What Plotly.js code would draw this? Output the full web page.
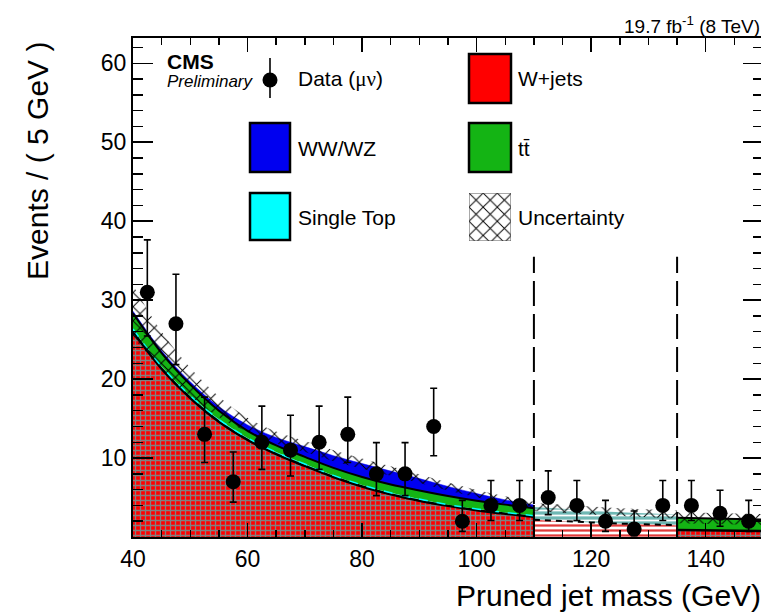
<!DOCTYPE html>
<html>
<head>
<meta charset="utf-8">
<script src="https://cdn.plot.ly/plotly-3.0.1.min.js"></script>
<style>
html,body{margin:0;padding:0;overflow:hidden;background:#fff;}
#chart{width:764px;height:614px;}
</style>
</head>
<body>
<div id="chart"></div>
<script>
// ---------------- data ----------------
// data points (bin centres, 5 GeV bins)
const binCenters = [42.5,47.5,52.5,57.5,62.5,67.5,72.5,77.5,82.5,87.5,92.5,97.5,102.5,107.5,112.5,117.5,122.5,127.5,132.5,137.5,142.5,147.5];
const dataCounts = [31,27,13,7,12,11,12,13,8,8,14,2,4,4,5,4,2,1,4,4,3,2];
const dataErrUp   = [6.63,6.27,4.71,3.77,4.57,4.42,4.57,4.71,3.95,3.95,4.84,2.64,3.16,3.16,3.38,3.16,2.64,2.30,3.16,3.16,2.92,2.64];
const dataErrDown = [5.55,5.17,3.57,2.58,3.43,3.27,3.43,3.57,2.76,2.76,3.71,1.29,1.91,1.91,2.16,1.91,1.29,0.83,1.91,1.91,1.63,1.29];

// lower sideband 40-110 GeV
const xLow   = [40,45,50,55,60,65,70,75,80,85,90,95,100,105,110];
const wjLow  = [26.0,21.3,17.6,14.6,12.3,10.5,9.0,7.6,6.4,5.4,4.6,3.95,3.4,2.95,2.55];
const stLow  = [0.35,0.3,0.3,0.3,0.25,0.25,0.25,0.2,0.2,0.2,0.2,0.15,0.15,0.15,0.15];
const ttLow  = [2.0,1.7,1.4,1.1,0.9,0.85,0.9,0.95,1.0,1.05,1.1,1.1,1.05,1.0,0.95];
const vvLow  = [0.25,0.3,0.35,0.5,0.75,1.0,1.3,1.55,1.7,1.7,1.5,1.2,0.9,0.6,0.4];
const uncLow = [3.3,2.4,1.8,1.3,0.9,0.75,0.7,0.7,0.65,0.6,0.55,0.5,0.45,0.45,0.4];

// signal region 110-135 GeV (blinded)
const xSig   = [110,115,120,125,130,135];
const wjSig  = [2.2,2.0,1.85,1.7,1.6,1.5];
const othSig = [1.6,1.55,1.5,1.45,1.4,1.35];
const uncSig = [0.5,0.5,0.5,0.5,0.5,0.5];

// upper sideband 135-150 GeV
const xHigh   = [135,140,145,150];
const wjHigh  = [0.9,0.85,0.8,0.75];
const ttHigh  = [1.55,1.5,1.5,1.45];
const uncHigh = [0.7,0.7,0.7,0.7];

const windowEdges = [110,135];
const windowLineTop = 35.5;

const xTickVals = [40,60,80,100,120,140];
const yTickVals = [10,20,30,40,50,60];

// ---------------- helpers ----------------
const add = (a,b) => a.map((v,i)=>v+b[i]);
const sub = (a,b) => a.map((v,i)=>v-b[i]);

const RED='#ff0000', GREEN='#14b414', BLUE='#0000f0', CYAN='#00ffff';
const redPattern = {shape:'+', bgcolor:RED, fgcolor:'#808080', size:5, solidity:0.45, fillmode:'replace'};
const hatch = {shape:'x', bgcolor:'rgba(0,0,0,0)', fgcolor:'#000', size:10, solidity:0.18, fillmode:'replace'};

const traces = [];
// --- low sideband stack
const l1 = wjLow, l2 = add(l1, stLow), l3 = add(l2, ttLow), l4 = add(l3, vvLow);
traces.push({x:xLow, y:l1, mode:'lines', line:{color:'#000', width:2.5, shape:'spline'}, fill:'tozeroy', fillcolor:RED, fillpattern:redPattern});
traces.push({x:xLow, y:l2, mode:'lines', line:{color:CYAN, width:1.5, dash:'dash', shape:'spline'}, fill:'tonexty', fillcolor:CYAN});
traces.push({x:xLow, y:l3, mode:'lines', line:{color:'#000', width:2, shape:'spline'}, fill:'tonexty', fillcolor:GREEN});
traces.push({x:xLow, y:l4, mode:'lines', line:{color:BLUE, width:0.5, shape:'spline'}, fill:'tonexty', fillcolor:BLUE});
traces.push({x:xLow, y:sub(l4, uncLow), mode:'lines', line:{width:0, shape:'spline'}});
traces.push({x:xLow, y:add(l4, uncLow), mode:'lines', line:{width:0, shape:'spline'}, fill:'tonexty', fillcolor:'rgba(0,0,0,0)', fillpattern:hatch});
// --- signal region (blinded)
const s1 = wjSig, s2 = add(s1, othSig);
traces.push({x:xSig, y:s1, mode:'lines', line:{color:'#000', width:2, dash:'6px,5px'}, fill:'tozeroy', fillcolor:'#fff',
  fillpattern:{shape:'-', bgcolor:'#ffffff', fgcolor:'#e23a3a', size:5, solidity:0.45, fillmode:'replace'}});
traces.push({x:xSig, y:s2, mode:'lines', line:{width:0}, fill:'tonexty', fillcolor:'#8cc8c8',
  fillpattern:{shape:'-', bgcolor:'#6fb8b4', fgcolor:'#ffffff', size:5, solidity:0.35, fillmode:'replace'}});
traces.push({x:xSig, y:sub(s2, uncSig), mode:'lines', line:{width:0}});
traces.push({x:xSig, y:add(s2, uncSig), mode:'lines', line:{width:0}, fill:'tonexty', fillcolor:'rgba(0,0,0,0)', fillpattern:hatch});
// --- high sideband
const h1 = wjHigh, h2 = add(h1, ttHigh);
traces.push({x:xHigh, y:h1, mode:'lines', line:{color:'#000', width:2.5}, fill:'tozeroy', fillcolor:RED, fillpattern:redPattern});
traces.push({x:xHigh, y:h2, mode:'lines', line:{color:'#000', width:2}, fill:'tonexty', fillcolor:GREEN});
traces.push({x:xHigh, y:sub(h2, uncHigh), mode:'lines', line:{width:0}});
traces.push({x:xHigh, y:add(h2, uncHigh), mode:'lines', line:{width:0}, fill:'tonexty', fillcolor:'rgba(0,0,0,0)', fillpattern:hatch});
// --- data
traces.push({x:binCenters, y:dataCounts, mode:'markers', marker:{color:'#000', size:15},
  error_y:{type:'data', symmetric:false, array:dataErrUp, arrayminus:dataErrDown, color:'#000', thickness:1.6, width:3.5}});

// ---------------- layout helpers (pixel -> paper) ----------------
const L=133, T=38, W=630, H=499;
const px = v => (v-L)/W;
const py = v => (T+H-v)/H;

// legend swatch for uncertainty (hatched) on its own small axes
traces.push({x:[0,1,1,0,0], y:[0,0,1,1,0], xaxis:'x2', yaxis:'y2', mode:'lines', line:{color:'#555', width:1},
  fill:'toself', fillcolor:'rgba(0,0,0,0)', fillpattern:{shape:'x', bgcolor:'rgba(0,0,0,0)', fgcolor:'#000', size:10, solidity:0.18}});

const FONT = 'Liberation Sans, Arial, Helvetica, sans-serif';
const shapes = [];
function box(x0,y0,x1,y1,color){
  shapes.push({type:'rect', xref:'paper', yref:'paper', x0:px(x0), x1:px(x1), y0:py(y1), y1:py(y0),
    fillcolor:color, line:{color:'#000', width:2.5}});
}
box(250,123,290,172,BLUE);
box(250,193,290,240,CYAN);
box(469,54,511,103,RED);
box(469,123,511,172,GREEN);
// data legend marker
shapes.push({type:'line', xref:'paper', yref:'paper', x0:px(270), x1:px(270), y0:py(98), y1:py(58), line:{color:'#000', width:1.6}});
shapes.push({type:'circle', xref:'paper', yref:'paper', x0:px(262.5), x1:px(277.5), y0:py(87.5), y1:py(72.5), fillcolor:'#000', line:{color:'#000', width:0}});
// window lines
const lowTotalEnd = l4[l4.length-1];
const highTotalStart = h2[0];
windowEdges.forEach((xe,i)=>{
  shapes.push({type:'line', xref:'x', yref:'y', x0:xe, x1:xe, y0:0, y1:windowLineTop, line:{color:'#000', width:2, dash:'25px,8px'}});
  shapes.push({type:'line', xref:'x', yref:'y', x0:xe, x1:xe, y0:0, y1:(i===0?lowTotalEnd:highTotalStart), line:{color:'#000', width:2}});
});

const annotations = [];
function txt(text, x, y, size, opts){
  annotations.push(Object.assign({text:text, xref:'paper', yref:'paper', x:px(x), y:py(y), xanchor:'left', yanchor:'middle',
    showarrow:false, font:{family:FONT, size:size, color:'#000'}}, opts||{}));
}
txt('<b>CMS</b>', 165, 61, 21);
txt('<i>Preliminary</i>', 165, 82, 17);
txt('Data (<span style="font-family:Liberation Serif">μν</span>)', 296, 79, 21);
txt('WW/WZ', 296, 148, 21);
txt('Single Top', 296, 217, 21);
txt('W+jets', 516, 79, 21);
txt('tt\u0304', 516, 148, 21);
txt('Uncertainty', 516, 217, 21);
txt('19.7 fb<sup>-1</sup> (8 TeV)', 762, 25, 19, {xanchor:'right'});
txt('Pruned jet mass (GeV)', 763, 595, 30, {xanchor:'right'});
txt('Events / ( 5 GeV )', 37, 40, 30, {xanchor:'center', yanchor:'top', textangle:-90});

const layout = {
  width:764, height:614,
  margin:{l:L, r:764-L-W, t:T, b:614-T-H, pad:0},
  paper_bgcolor:'#fff', plot_bgcolor:'#fff',
  showlegend:false,
  font:{family:FONT, color:'#000'},
  xaxis:{range:[40,150], showgrid:false, zeroline:false, showline:true, linecolor:'#000', linewidth:2, mirror:'allticks',
    ticks:'inside', ticklen:14, tickwidth:1.5, tickcolor:'#000', tickmode:'array', tickvals:xTickVals,
    tickfont:{family:FONT, size:23, color:'#000'},
    minor:{dtick:5, tick0:40, ticks:'inside', ticklen:7, tickwidth:1.5, tickcolor:'#000'}},
  yaxis:{range:[0,63.2], showgrid:false, zeroline:false, showline:true, linecolor:'#000', linewidth:2, mirror:'allticks',
    ticks:'inside', ticklen:20, tickwidth:1.5, tickcolor:'#000', tickmode:'array', tickvals:yTickVals,
    tickfont:{family:FONT, size:23, color:'#000'},
    minor:{dtick:2, tick0:0, ticks:'inside', ticklen:10, tickwidth:1.5, tickcolor:'#000'}},
  xaxis2:{domain:[px(469), px(511)], range:[0,1], visible:false, fixedrange:true, anchor:'y2'},
  yaxis2:{domain:[py(241), py(193)], range:[0,1], visible:false, fixedrange:true, anchor:'x2'},
  shapes:shapes,
  annotations:annotations
};

Plotly.newPlot('chart', traces, layout, {displayModeBar:false, staticPlot:true});
</script>
</body>
</html>
